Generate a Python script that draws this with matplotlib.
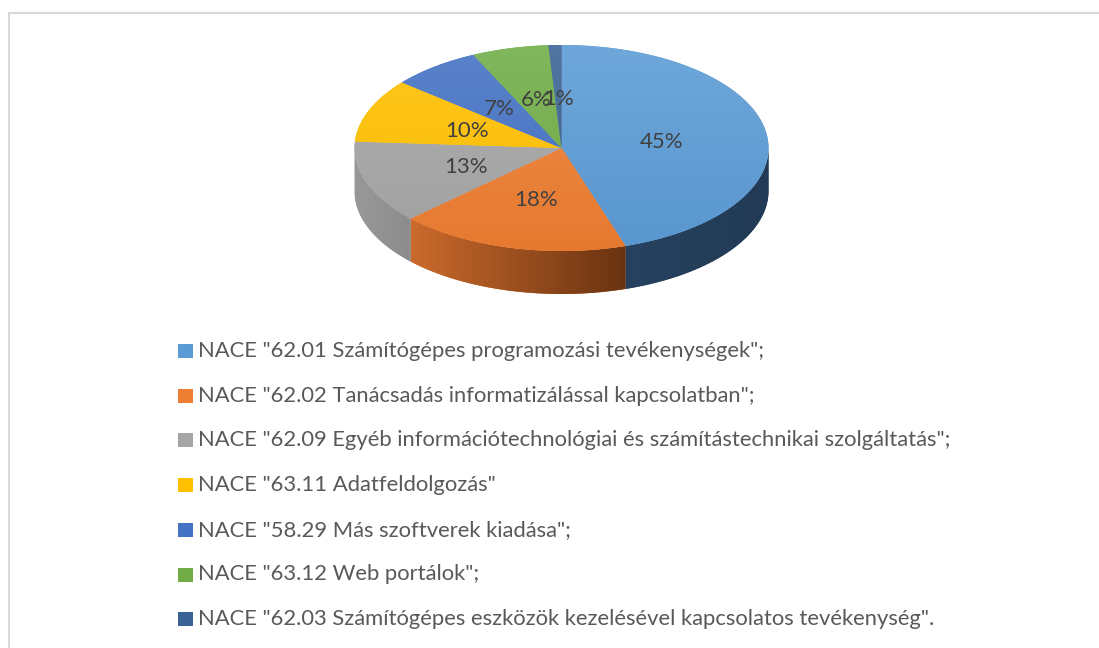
import numpy as np
import matplotlib.pyplot as plt
from matplotlib.patches import Polygon, Rectangle
from matplotlib.colors import to_rgb

# adatok
labels = [
    'NACE "62.01 Számítógépes programozási tevékenységek";',
    'NACE "62.02 Tanácsadás informatizálással kapcsolatban";',
    'NACE "62.09 Egyéb információtechnológiai és számítástechnikai szolgáltatás";',
    'NACE "63.11 Adatfeldolgozás"',
    'NACE "58.29 Más szoftverek kiadása";',
    'NACE "63.12 Web portálok";',
    'NACE "62.03 Számítógépes eszközök kezelésével kapcsolatos tevékenység".',
]
values = [45, 18, 13, 10, 7, 6, 1]
colors = ['#5B9BD5', '#ED7D31', '#A5A5A5', '#FFC000', '#4472C4', '#70AD47', '#3A6394']

# 3D-s tortadiagram geometriája (pixelben)
cx, cy = 561.5, 148
rx, ry = 207, 103
depth = 43

fig = plt.figure(figsize=(10.99, 6.48), dpi=100)
ax = fig.add_axes([0, 0, 1, 1])
ax.set_xlim(0, 1099)
ax.set_ylim(648, 0)
ax.axis('off')

# keret (csak bal és felső vonal látszik)
ax.plot([9, 9, 1099], [648, 13, 13], color='#D9D9D9', lw=1.5, solid_capstyle='butt')


def pt(theta, dy=0.0):
    t = np.radians(theta)
    return cx + rx * np.sin(t), cy - ry * np.cos(t) + dy


def mix(c, other, f):
    a = np.array(to_rgb(c))
    b = np.array(to_rgb(other))
    return tuple(a * (1 - f) + b * f)


side_left = {0: '#26425F', 1: '#CB6A2C', 2: '#989898'}
side_right = {0: '#223A55', 1: '#6A3311', 2: '#8C8C8C'}

total = sum(values)
starts = np.cumsum([0] + values[:-1]) / total * 360
ends = np.cumsum(values) / total * 360

# oldalfalak (csak az elülső, 90..270 fok közötti rész)
for i, (a, b) in enumerate(zip(starts, ends)):
    lo, hi = max(a, 90), min(b, 270)
    if lo >= hi:
        continue
    th = np.linspace(lo, hi, int((hi - lo) * 2) + 2)
    cl = side_left.get(i, mix(colors[i], 'black', 0.3))
    cr = side_right.get(i, mix(colors[i], 'black', 0.4))
    top = [pt(t) for t in th]
    bot = [pt(t, depth) for t in th[::-1]]
    side = Polygon(top + bot, closed=True, facecolor=cl, edgecolor='none')
    ax.add_patch(side)
    xs = [p[0] for p in top]
    grad = np.linspace(0, 1, 256)[None, :, None]
    img = np.array(to_rgb(cl))[None, None, :] * (1 - grad) + np.array(to_rgb(cr))[None, None, :] * grad
    im = ax.imshow(img, extent=[min(xs), max(xs), cy + ry + depth + 2, cy - ry],
                   aspect='auto', interpolation='bilinear', zorder=2)
    im.set_clip_path(side)

# felső lap, enyhe függőleges színátmenettel
for i, (a, b) in enumerate(zip(starts, ends)):
    th = np.linspace(a, b, int((b - a) * 2) + 2)
    verts = [(cx, cy)] + [pt(t) for t in th]
    poly = Polygon(verts, closed=True, facecolor=colors[i], edgecolor='none', zorder=3)
    ax.add_patch(poly)
    g = np.linspace(0, 1, 256)[:, None, None]
    c_top = np.array(mix(colors[i], 'white', 0.12))
    c_bot = np.array(mix(colors[i], 'black', 0.03))
    img = c_top[None, None, :] * (1 - g) + c_bot[None, None, :] * g
    im = ax.imshow(img, extent=[cx - rx - 2, cx + rx + 2, cy + ry + 2, cy - ry - 2],
                   aspect='auto', interpolation='bilinear', zorder=3)
    im.set_clip_path(poly)

ax.set_xlim(0, 1099)
ax.set_ylim(648, 0)

# százalék feliratok
for i, (a, b) in enumerate(zip(starts, ends)):
    m = (a + b) / 2
    t = np.radians(m)
    x = cx + 0.49 * rx * np.sin(t)
    y = cy - 0.50 * ry * np.cos(t) + 2
    ax.text(x, y, f'{values[i] / total:.0%}', ha='center', va='center', zorder=5,
            fontsize=16, color='#404040', family=['Lato', 'DejaVu Sans'])

# jelmagyarázat
leg_y0, leg_dy = 351, 44.7
for i, lab in enumerate(labels):
    y = leg_y0 + i * leg_dy
    ax.add_patch(Rectangle((178, y - 7), 15, 14, facecolor=colors[i], edgecolor='none'))
    ax.text(198, y, lab, ha='left', va='center', fontsize=15.8, color='#595959',
            family=['Lato', 'DejaVu Sans'])

fig.savefig('out.png', dpi=100)
